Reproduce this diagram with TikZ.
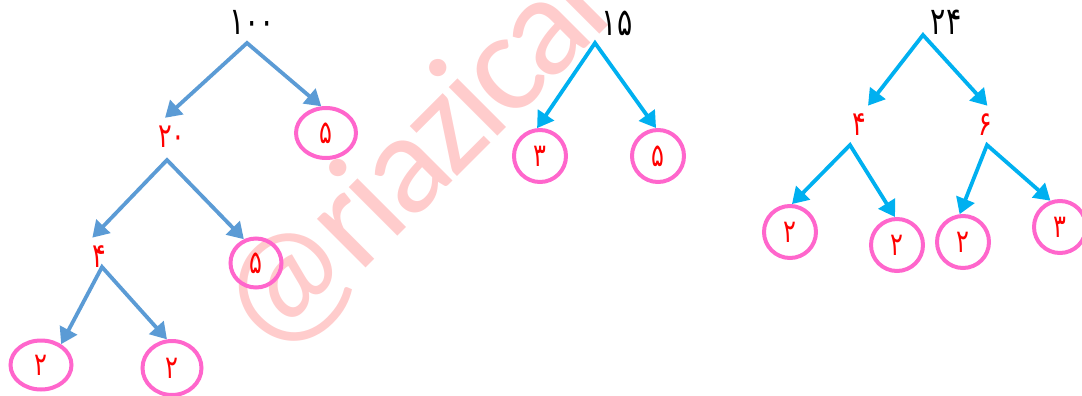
\documentclass[tikz,border=0pt]{standalone}
\usepackage{fontspec}
\usepackage{tikz}
\usetikzlibrary{arrows.meta,shapes.geometric,positioning}

\newfontfamily\persianfont[Script=Arabic, FakeStretch=0.75]{DejaVu Sans}
\newfontfamily\markfont[LetterSpace=-4]{Carlito}
\definecolor{treeblue}{HTML}{5B9BD5}
\definecolor{treecyan}{HTML}{00B0F0}
\definecolor{ringpink}{HTML}{FF66CC}
\definecolor{markpink}{HTML}{FFCCCC}

\begin{document}
\begin{tikzpicture}[x=0.5pt, y=-0.5pt,
	root/.style={font=\persianfont\fontsize{19}{21}\selectfont, inner sep=0pt},
	part/.style={font=\persianfont\fontsize{17}{19}\selectfont, text=red, inner sep=4pt},
	ring/.style={ellipse, draw=ringpink, line width=2pt, text=red, inner sep=0pt,
		font=\persianfont\fontsize{16}{18}\selectfont, minimum width=26pt, minimum height=26pt},
	branch/.style={line width=1.9pt, line join=miter,
		{Triangle[length=8pt,width=9.5pt]}-{Triangle[length=8pt,width=9.5pt]}}]
	\useasboundingbox (0, 0) rectangle (1082, 396);
	\clip (0, 0) rectangle (1082, 396);

	\node[font=\markfont\fontsize{72}{76}\selectfont, text=markpink, rotate=45, anchor=base west, inner sep=0pt] (mark) at (272, 362) {@riazical};

	% 100
	\node[root] (n100) at (252, 22) {۱۰۰};
	\coordinate (a100) at (247, 43);
	\node[part] (n20) at (172, 137) {۲۰};
	\node[ring, minimum width=30pt, minimum height=25pt] (c5a) at (326, 133) {۵};
	\draw[branch, treeblue] (n20.110) -- (a100) -- (c5a.100);

	\coordinate (a20) at (167, 160);
	\node[part] (n4a) at (99, 257) {۴};
	\node[ring, minimum width=25.5pt, minimum height=24.5pt] (c5b) at (256, 263) {۵};
	\draw[branch, treeblue] (n4a.109) -- (a20) -- (c5b.117);

	\coordinate (a4a) at (102, 267);
	\node[ring, minimum width=30.5pt, minimum height=24.5pt] (c2a) at (41, 365) {۲};
	\node[ring, minimum width=29.5pt, minimum height=27pt] (c2b) at (172, 368) {۲};
	\draw[branch, treeblue] (c2a.46) -- (a4a) -- (c2b.100);

	% 15
	\node[root] (n15) at (617, 23) {۱۵};
	\coordinate (a15) at (595, 43);
	\node[ring] (c3a) at (540, 156) {۳};
	\node[ring] (c5c) at (658, 156) {۵};
	\draw[branch, treecyan] (c3a.96) -- (a15) -- (c5c.94);

	% 24
	\node[root] (n24) at (946, 22) {۲۴};
	\coordinate (a24) at (923, 35);
	\node[part] (n4b) at (859, 125) {۴};
	\node[part] (n6) at (985, 125) {۶};
	\draw[branch, treecyan] (n4b.65) -- (a24) -- (n6.83);

	\coordinate (a4b) at (850, 145);
	\node[ring] (c2c) at (790, 232) {۲};
	\node[ring] (c2d) at (897, 245) {۲};
	\draw[branch, treecyan] (c2c.86) -- (a4b) -- (c2d.94);

	\coordinate (a6) at (987, 145);
	\node[ring] (c2e) at (963, 242) {۲};
	\node[ring] (c3b) at (1060, 227) {۳};
	\draw[branch, treecyan] (c2e.97) -- (a6) -- (c3b.110);

\end{tikzpicture}
\end{document}
